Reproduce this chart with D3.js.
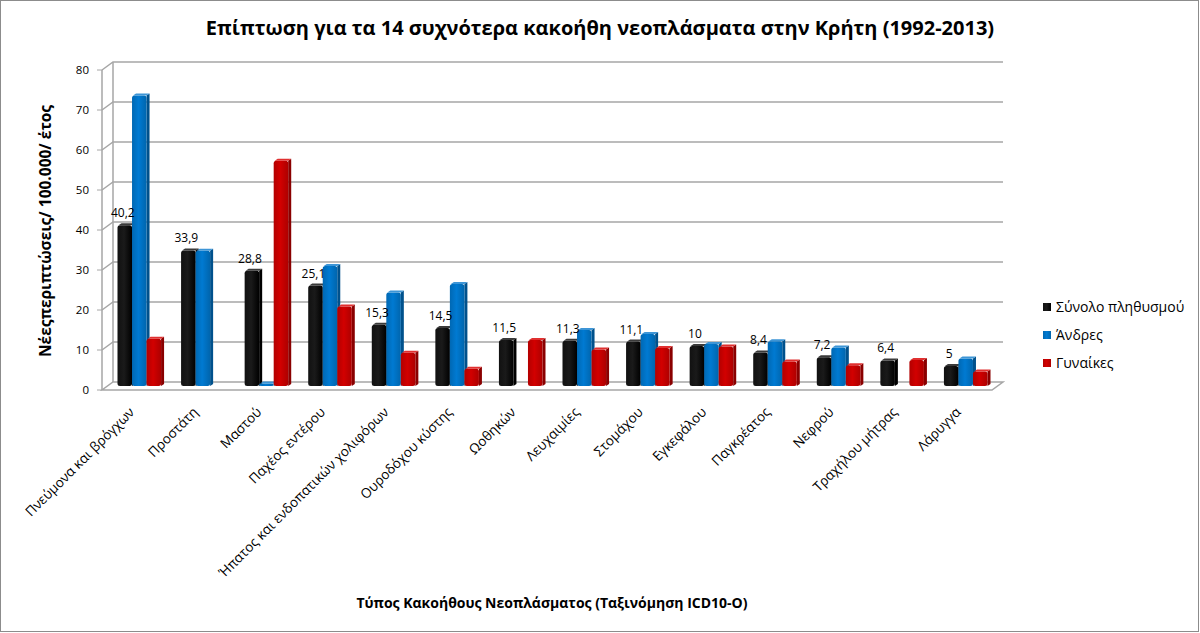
<!DOCTYPE html>
<html>
<head>
<meta charset="utf-8">
<script src="https://cdn.jsdelivr.net/npm/d3@7"></script>
<style>
  body { margin: 0; background: #fff; }
  svg { display: block; font-family: "Open Sans", "DejaVu Sans", sans-serif; }
</style>
</head>
<body>
<svg id="chart" width="1200" height="633"></svg>
<script>
// categories and values
const categories = ["Πνεύμονα και βρόγχων", "Προστάτη", "Μαστού", "Παχέος εντέρου",
  "Ήπατος και ενδοπατικών χολιφόρων", "Ουροδόχου κύστης", "Ωοθηκών", "Λευχαιμίες",
  "Στομάχου", "Εγκεφάλου", "Παγκρέατος", "Νεφρού", "Τραχήλου μήτρας", "Λάρυγγα"];
const seriesNames = ["Σύνολο πληθυσμού", "Άνδρες", "Γυναίκες"];
const totalValues = [40.2, 33.9, 28.8, 25.1, 15.3, 14.5, 11.5, 11.3, 11.1, 10, 8.4, 7.2, 6.4, 5];
const menValues   = [72.6, 33.8, 0.6, 30, 23.4, 25.5, 0, 14, 13, 10.5, 11.2, 9.6, 0, 6.9];
const womenValues = [11.8, 0, 56.3, 19.9, 8.3, 4.3, 11.5, 9.1, 9.5, 9.9, 6.1, 5.2, 6.5, 3.6];
const yTicks = [0, 10, 20, 30, 40, 50, 60, 70, 80];

const titleText = "Επίπτωση για τα 14 συχνότερα κακοήθη νεοπλάσματα στην Κρήτη (1992-2013)";
const yTitleText = "Νέεςπεριπτώσεις/ 100.000/ έτος";
const xTitleText = "Τύπος Κακοήθους Νεοπλάσματος (Ταξινόμηση ICD10-O)";

const colors = ["#000000", "#0070c0", "#c00000"];
const sideColors = ["#000000", "#00518c", "#8a0000"];
const topColors = ["#3a3a3a", "#3d95d6", "#e03030"];

const svg = d3.select("#chart");
const W = 1200, H = 633;

// 3d depth of the plot box
const dx = 11, dy = -8;
const x0 = 102, x1 = 992;

const y = d3.scaleLinear().domain([0, 80]).range([390, 70]);
const x = d3.scaleBand().domain(categories).range([x0 + dx / 2, x1 + dx / 2]);
const xs = d3.scaleBand().domain(seriesNames).range([10, x.bandwidth() - 10]);

const data = categories.map((c, i) => ({
  cat: c,
  values: [totalValues[i], menValues[i], womenValues[i]]
}));

// outer border
svg.append("rect")
  .attr("x", 0.5).attr("y", 0.5)
  .attr("width", W - 2).attr("height", H - 2)
  .attr("fill", "#fff").attr("stroke", "#8c8c8c");

// gradients
const defs = svg.append("defs");
colors.forEach((c, i) => {
  const g = defs.append("linearGradient")
    .attr("id", "grad" + i)
    .attr("x1", "0").attr("x2", "1").attr("y1", "0").attr("y2", "0");
  const base = d3.color(c);
  g.append("stop").attr("offset", "0%").attr("stop-color", i === 0 ? "#111" : base.darker(0.2));
  g.append("stop").attr("offset", "45%").attr("stop-color", i === 0 ? "#1a1a1a" : base.brighter(0.25));
  g.append("stop").attr("offset", "100%").attr("stop-color", i === 0 ? "#000" : base.darker(0.3));
});

// walls and floor
const grid = svg.append("g").attr("class", "grid");
grid.append("polygon")
  .attr("points", [[x0, y(0)], [x1, y(0)], [x1 + dx, y(0) + dy], [x0 + dx, y(0) + dy]].join(" "))
  .attr("fill", "#fff").attr("stroke", "#a6a6a6").attr("stroke-width", 1.5);
grid.append("line")
  .attr("x1", x0 + dx).attr("x2", x0 + dx)
  .attr("y1", y(0) + dy).attr("y2", y(80) + dy)
  .attr("stroke", "#a6a6a6").attr("stroke-width", 1.5);

grid.selectAll(".gl")
  .data(yTicks.slice(1))
  .join("polyline")
    .attr("class", "gl")
    .attr("points", d => [[x0, y(d)], [x0 + dx, y(d) + dy], [x1 + dx, y(d) + dy]].join(" "))
    .attr("fill", "none")
    .attr("stroke", "#a6a6a6")
    .attr("stroke-width", 1.5);

// front y axis
const axis = svg.append("g");
axis.append("line")
  .attr("x1", x0).attr("x2", x0).attr("y1", y(0)).attr("y2", y(80))
  .attr("stroke", "#a6a6a6").attr("stroke-width", 1.5);
axis.selectAll(".tk")
  .data(yTicks)
  .join("line")
    .attr("class", "tk")
    .attr("x1", x0 - 5).attr("x2", x0)
    .attr("y1", d => y(d)).attr("y2", d => y(d))
    .attr("stroke", "#a6a6a6");
axis.selectAll(".tl")
  .data(yTicks)
  .join("text")
    .attr("class", "tl")
    .attr("x", x0 - 13)
    .attr("y", d => y(d))
    .attr("dy", "0.35em")
    .attr("text-anchor", "end")
    .attr("font-size", 11.5)
    .attr("fill", "#000")
    .text(d => d);

// bars (3d look: front, side, top)
const bd = 3, bdy = -2;
const yb = v => y(v) + dy / 2;
const groups = svg.append("g").selectAll(".grp")
  .data(data)
  .join("g")
    .attr("class", "grp")
    .attr("transform", d => `translate(${x(d.cat)},0)`);

const bars = groups.selectAll(".bar")
  .data(d => d.values.map((v, i) => ({ v, i })).filter(e => e.v > 0))
  .join("g")
    .attr("class", "bar");

bars.append("polygon")
  .attr("points", d => {
    const bx = xs(seriesNames[d.i]) + xs.bandwidth();
    return [[bx, yb(0)], [bx + bd, yb(0) + bdy], [bx + bd, yb(d.v) + bdy], [bx, yb(d.v)]].join(" ");
  })
  .attr("fill", d => sideColors[d.i]);
bars.append("rect")
  .attr("x", d => xs(seriesNames[d.i]))
  .attr("y", d => yb(d.v))
  .attr("width", xs.bandwidth())
  .attr("height", d => yb(0) - yb(d.v))
  .attr("rx", 2.5)
  .attr("fill", d => `url(#grad${d.i})`);
bars.append("polygon")
  .attr("points", d => {
    const bx = xs(seriesNames[d.i]);
    const w = xs.bandwidth();
    return [[bx + 1, yb(d.v)], [bx + w, yb(d.v)], [bx + w + bd, yb(d.v) + bdy], [bx + bd + 1, yb(d.v) + bdy]].join(" ");
  })
  .attr("fill", d => topColors[d.i]);

// data labels for total population
groups.append("text")
  .attr("x", xs(seriesNames[0]) + xs.bandwidth() / 2 - 2)
  .attr("y", d => yb(d.values[0]) - 8)
  .attr("text-anchor", "middle")
  .attr("font-size", 12)
  .attr("fill", "#000")
  .text(d => String(d.values[0]).replace(".", ","));

// category labels
svg.append("g").selectAll(".cl")
  .data(categories)
  .join("text")
    .attr("class", "cl")
    .attr("transform", d => `translate(${x(d) + x.bandwidth() / 2 - 4},413) rotate(-45)`)
    .attr("text-anchor", "end")
    .attr("font-size", 13.5)
    .attr("fill", "#000")
    .text(d => d);

// titles
svg.append("text")
  .attr("x", 600).attr("y", 35)
  .attr("text-anchor", "middle")
  .attr("font-size", 20).attr("font-weight", "bold")
  .text(titleText);

svg.append("text")
  .attr("transform", "translate(51,231) rotate(-90)")
  .attr("text-anchor", "middle")
  .attr("font-size", 15.5).attr("font-weight", "bold")
  .text(yTitleText);

svg.append("text")
  .attr("x", 552).attr("y", 608)
  .attr("text-anchor", "middle")
  .attr("font-size", 14).attr("font-weight", "bold")
  .text(xTitleText);

// legend
const legend = svg.append("g").selectAll(".lg")
  .data(seriesNames)
  .join("g")
    .attr("class", "lg")
    .attr("transform", (d, i) => `translate(1043,${307 + i * 28})`);
legend.append("rect")
  .attr("x", 0).attr("y", -4)
  .attr("width", 8).attr("height", 8)
  .attr("fill", (d, i) => `url(#grad${i})`);
legend.append("text")
  .attr("x", 13)
  .attr("dy", "0.35em")
  .attr("font-size", 14)
  .text(d => d);
</script>
</body>
</html>
